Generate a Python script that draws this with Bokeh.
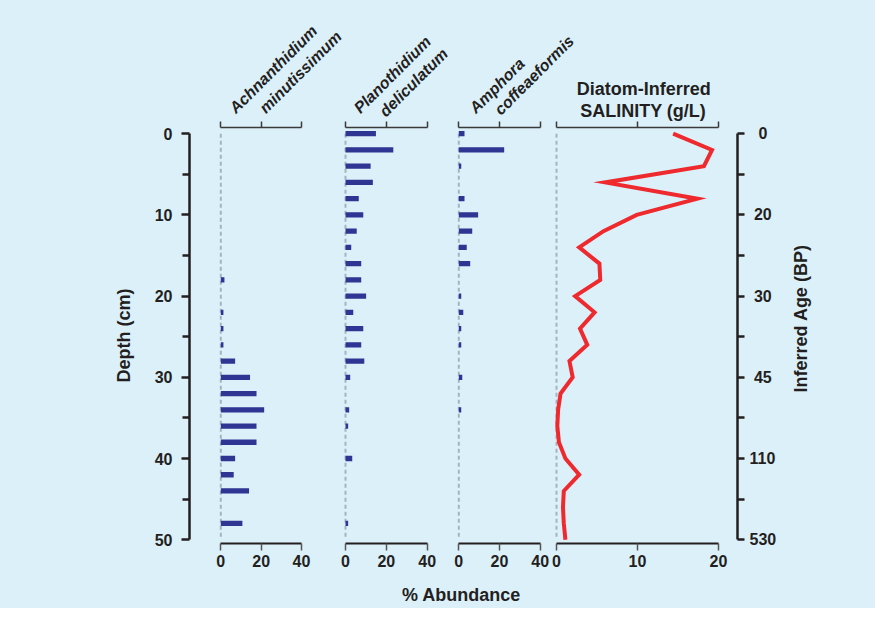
from bokeh.plotting import figure
from bokeh.models import Range1d, LinearAxis, FixedTicker, ColumnDataSource
from bokeh.layouts import row, column
from bokeh.embed import file_html
from bokeh.resources import INLINE
from bokeh.core.properties import value

# ---------------- data ----------------
depth_cm = list(range(0, 50, 2))
achnanthidium = [0, 0, 0, 0, 0, 0, 0, 0, 0, 1.8, 0, 1.3, 1.3, 1.3, 7.1, 14.5,
                 17.7, 21.5, 17.7, 17.7, 7.1, 6.4, 14.0, 0, 10.7]
planothidium = [14.9, 23.4, 12.3, 13.4, 6.5, 8.7, 5.5, 2.8, 7.7, 7.7, 10.1, 3.8,
                8.7, 7.7, 9.2, 2.3, 0, 1.8, 1.3, 0, 3.3, 0, 0, 0, 1.3]
amphora = [2.8, 22.3, 1.2, 0, 2.8, 9.5, 6.6, 3.9, 5.6, 0, 1.2, 2.2, 1.2, 1.2, 0,
           1.7, 0, 1.2, 0, 0, 0, 0, 0, 0, 0]
salinity_depth = list(range(0, 51, 2))
salinity = [14.4, 19.2, 18.2, 6.0, 17.4, 9.9, 5.8, 2.8, 5.3, 5.4, 2.3, 4.7, 2.9,
            3.8, 1.6, 2.0, 0.5, 0.2, 0.1, 0.3, 1.1, 2.8, 0.9, 0.8, 0.9, 1.1]
depth_ticks = [0, 10, 20, 30, 40, 50]
depth_minor = [5, 15, 25, 35, 45]
age_labels = ["0", "20", "30", "45", "110", "530"]
abund_ticks = [0, 20, 40]
sal_ticks = [0, 10, 20]
species_titles = [("Achnanthidium", "minutissimum"),
                  ("Planothidium", "deliculatum"),
                  ("Amphora", "coffeaeformis")]

# ---------------- layout constants ----------------
BG = "#dcf0fa"
INK = "#231f20"
BAR = "#2e3592"
RED = "#ee2a2e"
DASH = "#a3b4c0"
FONT = "Liberation Sans"
Y0, SY = 133.2, 8.12          # canvas y of depth 0, px per cm
PANELS = [(220.3, 2.0175), (345.0, 2.0425), (458.3, 2.035), (556.0, 8.1)]
W = 875


def xr(a, s, left, right):
    return Range1d((left - a) / s, (right - a) / s)


def yr(top, bottom):
    return Range1d((bottom - Y0) / SY, (top - Y0) / SY)


def base_fig(width, height, x_range, y_range, bl, br, bt, bb):
    p = figure(width=width, height=height, x_range=x_range, y_range=y_range,
               output_backend="svg", toolbar_location=None,
               x_axis_location=None, y_axis_location=None,
               min_border_left=bl, min_border_right=br,
               min_border_top=bt, min_border_bottom=bb,
               background_fill_color=BG, border_fill_color=BG,
               outline_line_color=None)
    for g in p.grid:
        g.visible = False
    return p


def nz(vals):
    ys = [d for d, v in zip(depth_cm, vals) if v > 0]
    xs = [v for v in vals if v > 0]
    return ColumnDataSource(dict(y=ys, right=xs))


ROW_TOP, FR_TOP, FR_BOT, ROW_BOT = 121, 127, 543, 580
shared_y = yr(FR_TOP, FR_BOT)
specs = [(0, 189, 320, 320), (320, 320, 440, 440), (440, 440, 550, 550), (550, 550, 737, 790)]
figs = []
for i, (L, fl, fr, R) in enumerate(specs):
    a, s = PANELS[i]
    p = base_fig(R - L, ROW_BOT - ROW_TOP, xr(a, s, fl, fr), shared_y, fl - L, R - fr,
                 FR_TOP - ROW_TOP, ROW_BOT - FR_BOT)
    ticks = sal_ticks if i == 3 else abund_ticks
    top = LinearAxis(ticker=FixedTicker(ticks=ticks), bounds=(ticks[0], ticks[-1]),
                     major_tick_out=6, major_tick_in=0, minor_tick_out=0, minor_tick_in=0,
                     major_label_text_font_size="0px", major_label_text_color=None,
                     major_label_standoff=0,
                     axis_line_color="#3a3a3a", axis_line_width=1.5,
                     major_tick_line_color="#3a3a3a", major_tick_line_width=1.5)
    p.add_layout(top, "above")
    bot = LinearAxis(ticker=FixedTicker(ticks=ticks), bounds=(ticks[0], ticks[-1]),
                     major_tick_out=7, major_tick_in=0, minor_tick_out=0, minor_tick_in=0,
                     major_label_standoff=4, major_label_text_font=FONT,
                     major_label_text_font_size="16px", major_label_text_font_style="bold",
                     major_label_text_color=INK,
                     axis_line_color=INK, axis_line_width=2.2,
                     major_tick_line_color="#555555", major_tick_line_width=1.5)
    p.add_layout(bot, "below")
    p.line([0, 0], [depth_ticks[0], depth_ticks[-1]], line_color=DASH, line_width=2,
           line_dash="4 3")
    figs.append(p)

for p, vals in zip(figs[:3], [achnanthidium, planothidium, amphora]):
    p.hbar(y="y", left=0, right="right", height=0.65, source=nz(vals),
           fill_color=BAR, line_color=None)

figs[3].line(salinity, salinity_depth, line_color=RED, line_width=4, line_join="miter")

# left depth axis
left = LinearAxis(ticker=FixedTicker(ticks=depth_ticks, minor_ticks=depth_minor),
                  bounds=(0, 50), major_tick_out=8, major_tick_in=0,
                  minor_tick_out=7, minor_tick_in=0,
                  axis_line_color=INK, axis_line_width=2.5,
                  major_tick_line_color=INK, major_tick_line_width=2.5,
                  minor_tick_line_color=INK, minor_tick_line_width=2.5,
                  major_label_standoff=9, major_label_text_font=FONT,
                  major_label_text_font_size="16px", major_label_text_font_style="bold",
                  major_label_text_color=INK,
                  axis_label="Depth (cm)", axis_label_standoff=18,
                  axis_label_text_font=FONT, axis_label_text_font_size="18px",
                  axis_label_text_font_style="bold", axis_label_text_color=INK)
figs[0].add_layout(left, "left")

# right age axis
pad = {1: "\u00a0\u00a0", 2: "\u00a0", 3: ""}
right = LinearAxis(ticker=FixedTicker(ticks=depth_ticks, minor_ticks=depth_minor),
                   bounds=(0, 50), major_tick_out=7, major_tick_in=0,
                   minor_tick_out=7, minor_tick_in=0,
                   axis_line_color=INK, axis_line_width=2.5,
                   major_tick_line_color=INK, major_tick_line_width=2.5,
                   minor_tick_line_color=INK, minor_tick_line_width=2.5,
                   major_label_standoff=5, major_label_text_font=FONT,
                   major_label_text_font_size="16px", major_label_text_font_style="bold",
                   major_label_text_color=INK,
                   major_label_overrides={t: pad[len(lbl)] + lbl
                                          for t, lbl in zip(depth_ticks, age_labels)})
figs[3].add_layout(right, "right")

# right-hand title strip (axis title reading bottom-to-top)
rf = base_fig(W - 790, ROW_BOT - ROW_TOP, xr(*PANELS[3], 790, W), yr(ROW_TOP, ROW_BOT),
              0, 0, 0, 0)
rf.text(x=[(800 - PANELS[3][0]) / PANELS[3][1]], y=[(331.7 - Y0) / SY],
        text=["Inferred Age (BP)"], angle=90, angle_units="deg",
        text_align="center", text_baseline="middle",
        text_font=value(FONT), text_font_size="18px", text_font_style="bold",
        text_color=INK)
figs.append(rf)

# title strip
tf = base_fig(W, ROW_TOP, xr(*PANELS[0], 0, W), yr(0, ROW_TOP), 0, 0, 0, 0)
tf.extra_x_ranges = {"p%d" % i: xr(*PANELS[i], 0, W) for i in range(4)}
title_pos = [((5.65, -2.86), (20.5, -2.86)),
             ((5.39, -2.86), (17.96, -2.45)),
             ((6.58, -2.86), (18.87, -2.65))]
for i, (names, pos) in enumerate(zip(species_titles, title_pos)):
    tf.text(x=[pos[0][0], pos[1][0]], y=[pos[0][1], pos[1][1]], text=list(names),
            x_range_name="p%d" % i, angle=45, angle_units="deg",
            text_align="left", text_baseline="alphabetic",
            text_font=value(FONT), text_font_size="16px", text_font_style="bold italic",
            text_color=INK)
tf.text(x=[10.78, 10.7], y=[(88.3 - Y0) / SY, (110.7 - Y0) / SY],
        text=["Diatom-Inferred", "SALINITY (g/L)"], x_range_name="p3",
        text_align="center", text_baseline="alphabetic",
        text_font=value(FONT), text_font_size="18px", text_font_style="bold",
        text_color=INK)

# bottom strip
bf = base_fig(W, 608 - ROW_BOT, xr(*PANELS[2], 0, W), yr(ROW_BOT, 608), 0, 0, 0, 0)
bf.text(x=[1.33], y=[(594 - Y0) / SY], text=["% Abundance"], text_align="center",
        text_baseline="middle", text_font=value(FONT), text_font_size="18px",
        text_font_style="bold", text_color=INK)

bgstyle = {"background-color": BG}
layout = column(tf, row(*figs, spacing=0, styles=bgstyle), bf, spacing=0, styles=bgstyle)
open("out.html", "w").write(file_html(layout, INLINE))
